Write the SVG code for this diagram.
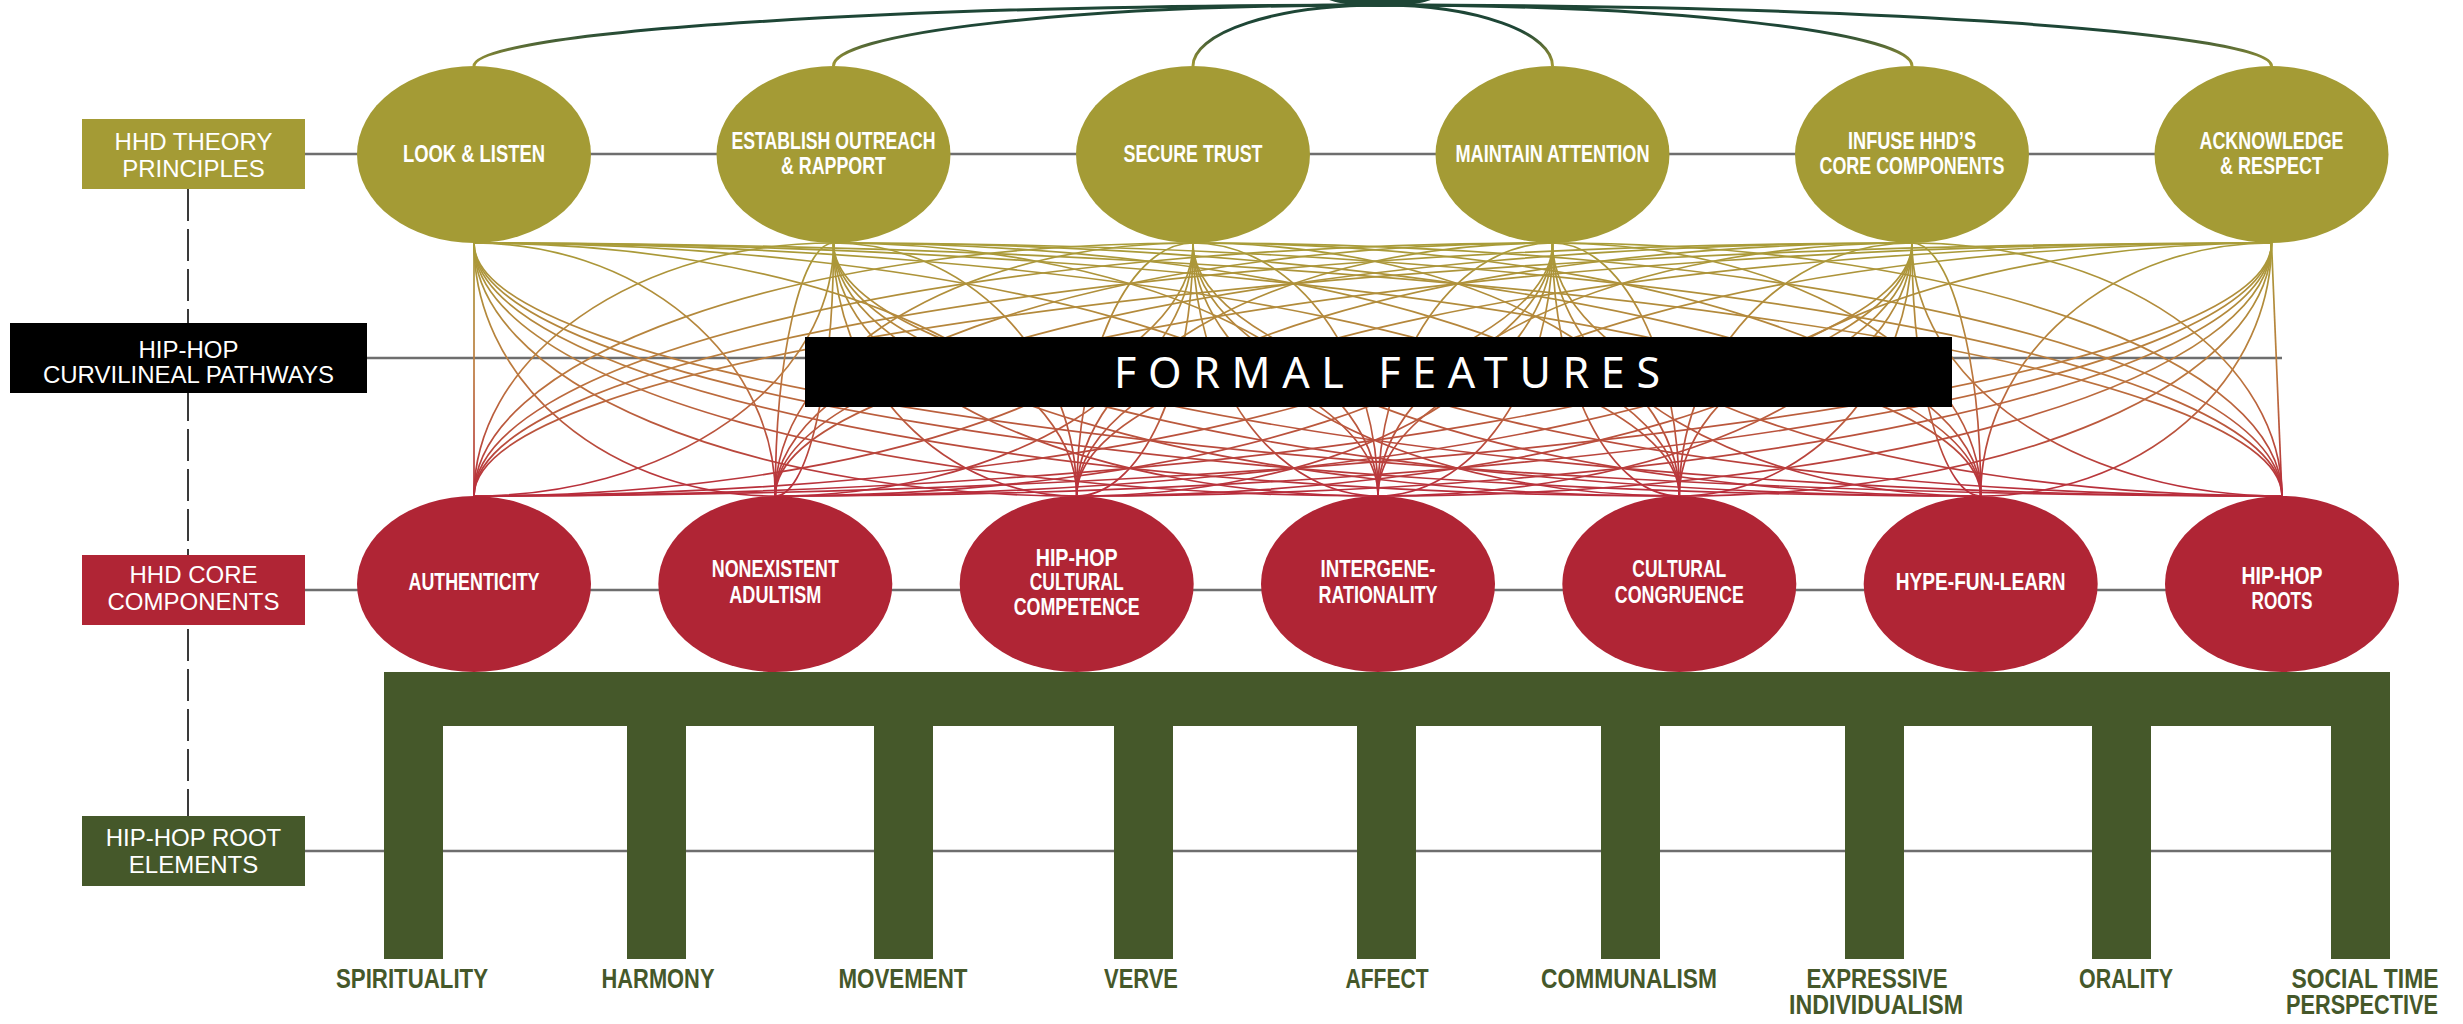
<svg xmlns="http://www.w3.org/2000/svg" width="2463" height="1024" viewBox="0 0 2463 1024">
<defs>
<style>
.hline{stroke:#6e6e6e;stroke-width:2.5;fill:none}
.dash{stroke:#3a3a3a;stroke-width:2;stroke-dasharray:32 8;fill:none}
.pw{stroke:url(#pwGrad);stroke-width:1.7;fill:none}
.top{stroke:url(#topGrad);stroke-width:3;fill:none}
.olive{fill:#A49B35}
.red{fill:#B02535}
.green{fill:#45582A}
.blk{fill:#000}
.box{font-family:"Liberation Sans",Arial,sans-serif;font-size:24px;fill:#fff;text-anchor:middle}
.el{font-family:"Liberation Sans Narrow","Liberation Sans",Arial,sans-serif;font-weight:bold;font-size:23px;fill:#fff;text-anchor:middle}
.rt{font-family:"Liberation Sans Narrow","Liberation Sans",Arial,sans-serif;font-weight:bold;font-size:27px;fill:#45582A;text-anchor:middle}
.ff{font-family:"Noto Sans","Liberation Sans",sans-serif;font-size:43px;fill:#fff}
</style>
<linearGradient id="pwGrad" gradientUnits="userSpaceOnUse" x1="0" y1="243" x2="0" y2="496">
<stop offset="0" stop-color="#A89C38"/>
<stop offset="0.5" stop-color="#BC7A3E"/>
<stop offset="1" stop-color="#B82B3B"/>
</linearGradient>
<linearGradient id="topGrad" gradientUnits="userSpaceOnUse" x1="0" y1="66" x2="0" y2="30">
<stop offset="0" stop-color="#A49B35"/>
<stop offset="1" stop-color="#1E4636"/>
</linearGradient>
</defs>
<rect width="2463" height="1024" fill="#fff"/>

<g id="connectors">
<line class="dash" x1="188" y1="189" x2="188" y2="816"/>
<line class="hline" x1="305" y1="154" x2="2271" y2="154"/>
<line class="hline" x1="367" y1="358" x2="2282" y2="358"/>
<line class="hline" x1="305" y1="590" x2="2282" y2="590"/>
<line class="hline" x1="305" y1="851" x2="2331" y2="851"/>
<g id="top-arcs">
<path class="top" d="M474 66A906 61 0 0 1 1380 5"/>
<path class="top" d="M833.5 66A546.5 61 0 0 1 1380 5"/>
<path class="top" d="M1193 66A187 61 0 0 1 1380 5"/>
<path class="top" d="M1552.5 66A172.5 61 0 0 0 1380 5"/>
<path class="top" d="M1912 66A532 61 0 0 0 1380 5"/>
<path class="top" d="M2271.5 66A891.5 61 0 0 0 1380 5"/>
<ellipse cx="1380" cy="-8" rx="60" ry="15" fill="#1E4636"/>
</g>
<g id="pathways">
<path class="pw" d="M474 243L474 496"/>
<path class="pw" d="M474 243A301.3 253 0 0 1 775.3 496"/><path class="pw" d="M474 243A301.3 253 0 0 0 775.3 496"/>
<path class="pw" d="M474 243A602.7 253 0 0 1 1076.7 496"/><path class="pw" d="M474 243A602.7 253 0 0 0 1076.7 496"/>
<path class="pw" d="M474 243A904 253 0 0 1 1378 496"/><path class="pw" d="M474 243A904 253 0 0 0 1378 496"/>
<path class="pw" d="M474 243A1205.3 253 0 0 1 1679.3 496"/><path class="pw" d="M474 243A1205.3 253 0 0 0 1679.3 496"/>
<path class="pw" d="M474 243A1506.7 253 0 0 1 1980.7 496"/><path class="pw" d="M474 243A1506.7 253 0 0 0 1980.7 496"/>
<path class="pw" d="M474 243A1808 253 0 0 1 2282 496"/><path class="pw" d="M474 243A1808 253 0 0 0 2282 496"/>

<path class="pw" d="M833.5 243A359.5 253 0 0 0 474 496"/><path class="pw" d="M833.5 243A359.5 253 0 0 1 474 496"/>
<path class="pw" d="M833.5 243A58.2 253 0 0 0 775.3 496"/><path class="pw" d="M833.5 243A58.2 253 0 0 1 775.3 496"/>
<path class="pw" d="M833.5 243A243.2 253 0 0 1 1076.7 496"/><path class="pw" d="M833.5 243A243.2 253 0 0 0 1076.7 496"/>
<path class="pw" d="M833.5 243A544.5 253 0 0 1 1378 496"/><path class="pw" d="M833.5 243A544.5 253 0 0 0 1378 496"/>
<path class="pw" d="M833.5 243A845.8 253 0 0 1 1679.3 496"/><path class="pw" d="M833.5 243A845.8 253 0 0 0 1679.3 496"/>
<path class="pw" d="M833.5 243A1147.2 253 0 0 1 1980.7 496"/><path class="pw" d="M833.5 243A1147.2 253 0 0 0 1980.7 496"/>
<path class="pw" d="M833.5 243A1448.5 253 0 0 1 2282 496"/><path class="pw" d="M833.5 243A1448.5 253 0 0 0 2282 496"/>

<path class="pw" d="M1193 243A719 253 0 0 0 474 496"/><path class="pw" d="M1193 243A719 253 0 0 1 474 496"/>
<path class="pw" d="M1193 243A417.7 253 0 0 0 775.3 496"/><path class="pw" d="M1193 243A417.7 253 0 0 1 775.3 496"/>
<path class="pw" d="M1193 243A116.3 253 0 0 0 1076.7 496"/><path class="pw" d="M1193 243A116.3 253 0 0 1 1076.7 496"/>
<path class="pw" d="M1193 243A185 253 0 0 1 1378 496"/><path class="pw" d="M1193 243A185 253 0 0 0 1378 496"/>
<path class="pw" d="M1193 243A486.3 253 0 0 1 1679.3 496"/><path class="pw" d="M1193 243A486.3 253 0 0 0 1679.3 496"/>
<path class="pw" d="M1193 243A787.7 253 0 0 1 1980.7 496"/><path class="pw" d="M1193 243A787.7 253 0 0 0 1980.7 496"/>
<path class="pw" d="M1193 243A1089 253 0 0 1 2282 496"/><path class="pw" d="M1193 243A1089 253 0 0 0 2282 496"/>

<path class="pw" d="M1552.5 243A1078.5 253 0 0 0 474 496"/><path class="pw" d="M1552.5 243A1078.5 253 0 0 1 474 496"/>
<path class="pw" d="M1552.5 243A777.2 253 0 0 0 775.3 496"/><path class="pw" d="M1552.5 243A777.2 253 0 0 1 775.3 496"/>
<path class="pw" d="M1552.5 243A475.8 253 0 0 0 1076.7 496"/><path class="pw" d="M1552.5 243A475.8 253 0 0 1 1076.7 496"/>
<path class="pw" d="M1552.5 243A174.5 253 0 0 0 1378 496"/><path class="pw" d="M1552.5 243A174.5 253 0 0 1 1378 496"/>
<path class="pw" d="M1552.5 243A126.8 253 0 0 1 1679.3 496"/><path class="pw" d="M1552.5 243A126.8 253 0 0 0 1679.3 496"/>
<path class="pw" d="M1552.5 243A428.2 253 0 0 1 1980.7 496"/><path class="pw" d="M1552.5 243A428.2 253 0 0 0 1980.7 496"/>
<path class="pw" d="M1552.5 243A729.5 253 0 0 1 2282 496"/><path class="pw" d="M1552.5 243A729.5 253 0 0 0 2282 496"/>

<path class="pw" d="M1912 243A1438 253 0 0 0 474 496"/><path class="pw" d="M1912 243A1438 253 0 0 1 474 496"/>
<path class="pw" d="M1912 243A1136.7 253 0 0 0 775.3 496"/><path class="pw" d="M1912 243A1136.7 253 0 0 1 775.3 496"/>
<path class="pw" d="M1912 243A835.3 253 0 0 0 1076.7 496"/><path class="pw" d="M1912 243A835.3 253 0 0 1 1076.7 496"/>
<path class="pw" d="M1912 243A534 253 0 0 0 1378 496"/><path class="pw" d="M1912 243A534 253 0 0 1 1378 496"/>
<path class="pw" d="M1912 243A232.7 253 0 0 0 1679.3 496"/><path class="pw" d="M1912 243A232.7 253 0 0 1 1679.3 496"/>
<path class="pw" d="M1912 243A68.7 253 0 0 1 1980.7 496"/><path class="pw" d="M1912 243A68.7 253 0 0 0 1980.7 496"/>
<path class="pw" d="M1912 243A370 253 0 0 1 2282 496"/><path class="pw" d="M1912 243A370 253 0 0 0 2282 496"/>

<path class="pw" d="M2271.5 243A1797.5 253 0 0 0 474 496"/><path class="pw" d="M2271.5 243A1797.5 253 0 0 1 474 496"/>
<path class="pw" d="M2271.5 243A1496.2 253 0 0 0 775.3 496"/><path class="pw" d="M2271.5 243A1496.2 253 0 0 1 775.3 496"/>
<path class="pw" d="M2271.5 243A1194.8 253 0 0 0 1076.7 496"/><path class="pw" d="M2271.5 243A1194.8 253 0 0 1 1076.7 496"/>
<path class="pw" d="M2271.5 243A893.5 253 0 0 0 1378 496"/><path class="pw" d="M2271.5 243A893.5 253 0 0 1 1378 496"/>
<path class="pw" d="M2271.5 243A592.2 253 0 0 0 1679.3 496"/><path class="pw" d="M2271.5 243A592.2 253 0 0 1 1679.3 496"/>
<path class="pw" d="M2271.5 243A290.8 253 0 0 0 1980.7 496"/><path class="pw" d="M2271.5 243A290.8 253 0 0 1 1980.7 496"/>
<path class="pw" d="M2271.5 243L2282 496"/>
</g>
</g>

<g id="label-theory"><rect class="olive" x="82" y="119" width="223" height="70"/><text class="box" x="193.5" y="150">HHD THEORY</text><text class="box" x="193.5" y="177">PRINCIPLES</text></g>
<g id="label-pathways"><rect class="blk" x="10" y="323" width="357" height="70"/><text class="box" x="188.5" y="358">HIP-HOP</text><text class="box" x="188.5" y="383">CURVILINEAL PATHWAYS</text></g>
<g id="label-core"><rect class="red" x="82" y="555" width="223" height="70"/><text class="box" x="193.5" y="583">HHD CORE</text><text class="box" x="193.5" y="610">COMPONENTS</text></g>
<g id="label-root"><rect class="green" x="82" y="816" width="223" height="70"/><text class="box" x="193.5" y="846">HIP-HOP ROOT</text><text class="box" x="193.5" y="873">ELEMENTS</text></g>

<g id="formal-features"><rect class="blk" x="805" y="337" width="1147" height="70"/><text class="ff" x="1114" y="388" textLength="546" lengthAdjust="spacing">FORMAL FEATURES</text></g>

<g id="p-look-listen"><ellipse class="olive" cx="474" cy="154.5" rx="117" ry="88.5"/><text class="el" x="474" y="162" textLength="142" lengthAdjust="spacingAndGlyphs">LOOK &amp; LISTEN</text></g>
<g id="p-establish"><ellipse class="olive" cx="833.5" cy="154.5" rx="117" ry="88.5"/><text class="el" x="833.5" y="149" textLength="204" lengthAdjust="spacingAndGlyphs">ESTABLISH OUTREACH</text><text class="el" x="833.5" y="174" textLength="105" lengthAdjust="spacingAndGlyphs">&amp; RAPPORT</text></g>
<g id="p-secure-trust"><ellipse class="olive" cx="1193" cy="154.5" rx="117" ry="88.5"/><text class="el" x="1193" y="162" textLength="139" lengthAdjust="spacingAndGlyphs">SECURE TRUST</text></g>
<g id="p-maintain"><ellipse class="olive" cx="1552.5" cy="154.5" rx="117" ry="88.5"/><text class="el" x="1552.5" y="162" textLength="194" lengthAdjust="spacingAndGlyphs">MAINTAIN ATTENTION</text></g>
<g id="p-infuse"><ellipse class="olive" cx="1912" cy="154.5" rx="117" ry="88.5"/><text class="el" x="1912" y="149" textLength="128" lengthAdjust="spacingAndGlyphs">INFUSE HHD’S</text><text class="el" x="1912" y="174" textLength="185" lengthAdjust="spacingAndGlyphs">CORE COMPONENTS</text></g>
<g id="p-acknowledge"><ellipse class="olive" cx="2271.5" cy="154.5" rx="117" ry="88.5"/><text class="el" x="2271.5" y="149" textLength="144" lengthAdjust="spacingAndGlyphs">ACKNOWLEDGE</text><text class="el" x="2271.5" y="174" textLength="103" lengthAdjust="spacingAndGlyphs">&amp; RESPECT</text></g>

<g id="c-authenticity"><ellipse class="red" cx="474" cy="584" rx="117" ry="88"/><text class="el" x="474" y="590" textLength="131" lengthAdjust="spacingAndGlyphs">AUTHENTICITY</text></g>
<g id="c-nonexistent"><ellipse class="red" cx="775.3" cy="584" rx="117" ry="88"/><text class="el" x="775.3" y="577" textLength="127" lengthAdjust="spacingAndGlyphs">NONEXISTENT</text><text class="el" x="775.3" y="603" textLength="92" lengthAdjust="spacingAndGlyphs">ADULTISM</text></g>
<g id="c-competence"><ellipse class="red" cx="1076.7" cy="584" rx="117" ry="88"/><text class="el" x="1076.7" y="566" textLength="82" lengthAdjust="spacingAndGlyphs">HIP-HOP</text><text class="el" x="1076.7" y="590" textLength="94" lengthAdjust="spacingAndGlyphs">CULTURAL</text><text class="el" x="1076.7" y="615" textLength="126" lengthAdjust="spacingAndGlyphs">COMPETENCE</text></g>
<g id="c-intergenerationality"><ellipse class="red" cx="1378" cy="584" rx="117" ry="88"/><text class="el" x="1378" y="577" textLength="115" lengthAdjust="spacingAndGlyphs">INTERGENE-</text><text class="el" x="1378" y="603" textLength="119" lengthAdjust="spacingAndGlyphs">RATIONALITY</text></g>
<g id="c-congruence"><ellipse class="red" cx="1679.3" cy="584" rx="117" ry="88"/><text class="el" x="1679.3" y="577" textLength="94" lengthAdjust="spacingAndGlyphs">CULTURAL</text><text class="el" x="1679.3" y="603" textLength="129" lengthAdjust="spacingAndGlyphs">CONGRUENCE</text></g>
<g id="c-hype"><ellipse class="red" cx="1980.7" cy="584" rx="117" ry="88"/><text class="el" x="1980.7" y="590" textLength="170" lengthAdjust="spacingAndGlyphs">HYPE-FUN-LEARN</text></g>
<g id="c-roots"><ellipse class="red" cx="2282" cy="584" rx="117" ry="88"/><text class="el" x="2282" y="584" textLength="81" lengthAdjust="spacingAndGlyphs">HIP-HOP</text><text class="el" x="2282" y="609" textLength="61" lengthAdjust="spacingAndGlyphs">ROOTS</text></g>

<g id="root-bar"><rect class="green" x="384" y="672" width="2006" height="54"/></g>
<g id="r-spirituality"><rect class="green" x="384" y="700" width="59" height="259"/><text class="rt" x="412" y="988" textLength="152" lengthAdjust="spacingAndGlyphs">SPIRITUALITY</text></g>
<g id="r-harmony"><rect class="green" x="627" y="700" width="59" height="259"/><text class="rt" x="658" y="988" textLength="113" lengthAdjust="spacingAndGlyphs">HARMONY</text></g>
<g id="r-movement"><rect class="green" x="874" y="700" width="59" height="259"/><text class="rt" x="903" y="988" textLength="129" lengthAdjust="spacingAndGlyphs">MOVEMENT</text></g>
<g id="r-verve"><rect class="green" x="1114" y="700" width="59" height="259"/><text class="rt" x="1141" y="988" textLength="74" lengthAdjust="spacingAndGlyphs">VERVE</text></g>
<g id="r-affect"><rect class="green" x="1357" y="700" width="59" height="259"/><text class="rt" x="1387" y="988" textLength="83" lengthAdjust="spacingAndGlyphs">AFFECT</text></g>
<g id="r-communalism"><rect class="green" x="1601" y="700" width="59" height="259"/><text class="rt" x="1629" y="988" textLength="176" lengthAdjust="spacingAndGlyphs">COMMUNALISM</text></g>
<g id="r-expressive"><rect class="green" x="1845" y="700" width="59" height="259"/><text class="rt" x="1877" y="988" textLength="141" lengthAdjust="spacingAndGlyphs">EXPRESSIVE</text><text class="rt" x="1876" y="1014" textLength="174" lengthAdjust="spacingAndGlyphs">INDIVIDUALISM</text></g>
<g id="r-orality"><rect class="green" x="2092" y="700" width="59" height="259"/><text class="rt" x="2126" y="988" textLength="94" lengthAdjust="spacingAndGlyphs">ORALITY</text></g>
<g id="r-social-time"><rect class="green" x="2331" y="700" width="59" height="259"/><text class="rt" x="2365" y="988" textLength="147" lengthAdjust="spacingAndGlyphs">SOCIAL TIME</text><text class="rt" x="2362" y="1014" textLength="152" lengthAdjust="spacingAndGlyphs">PERSPECTIVE</text></g>
</svg>
